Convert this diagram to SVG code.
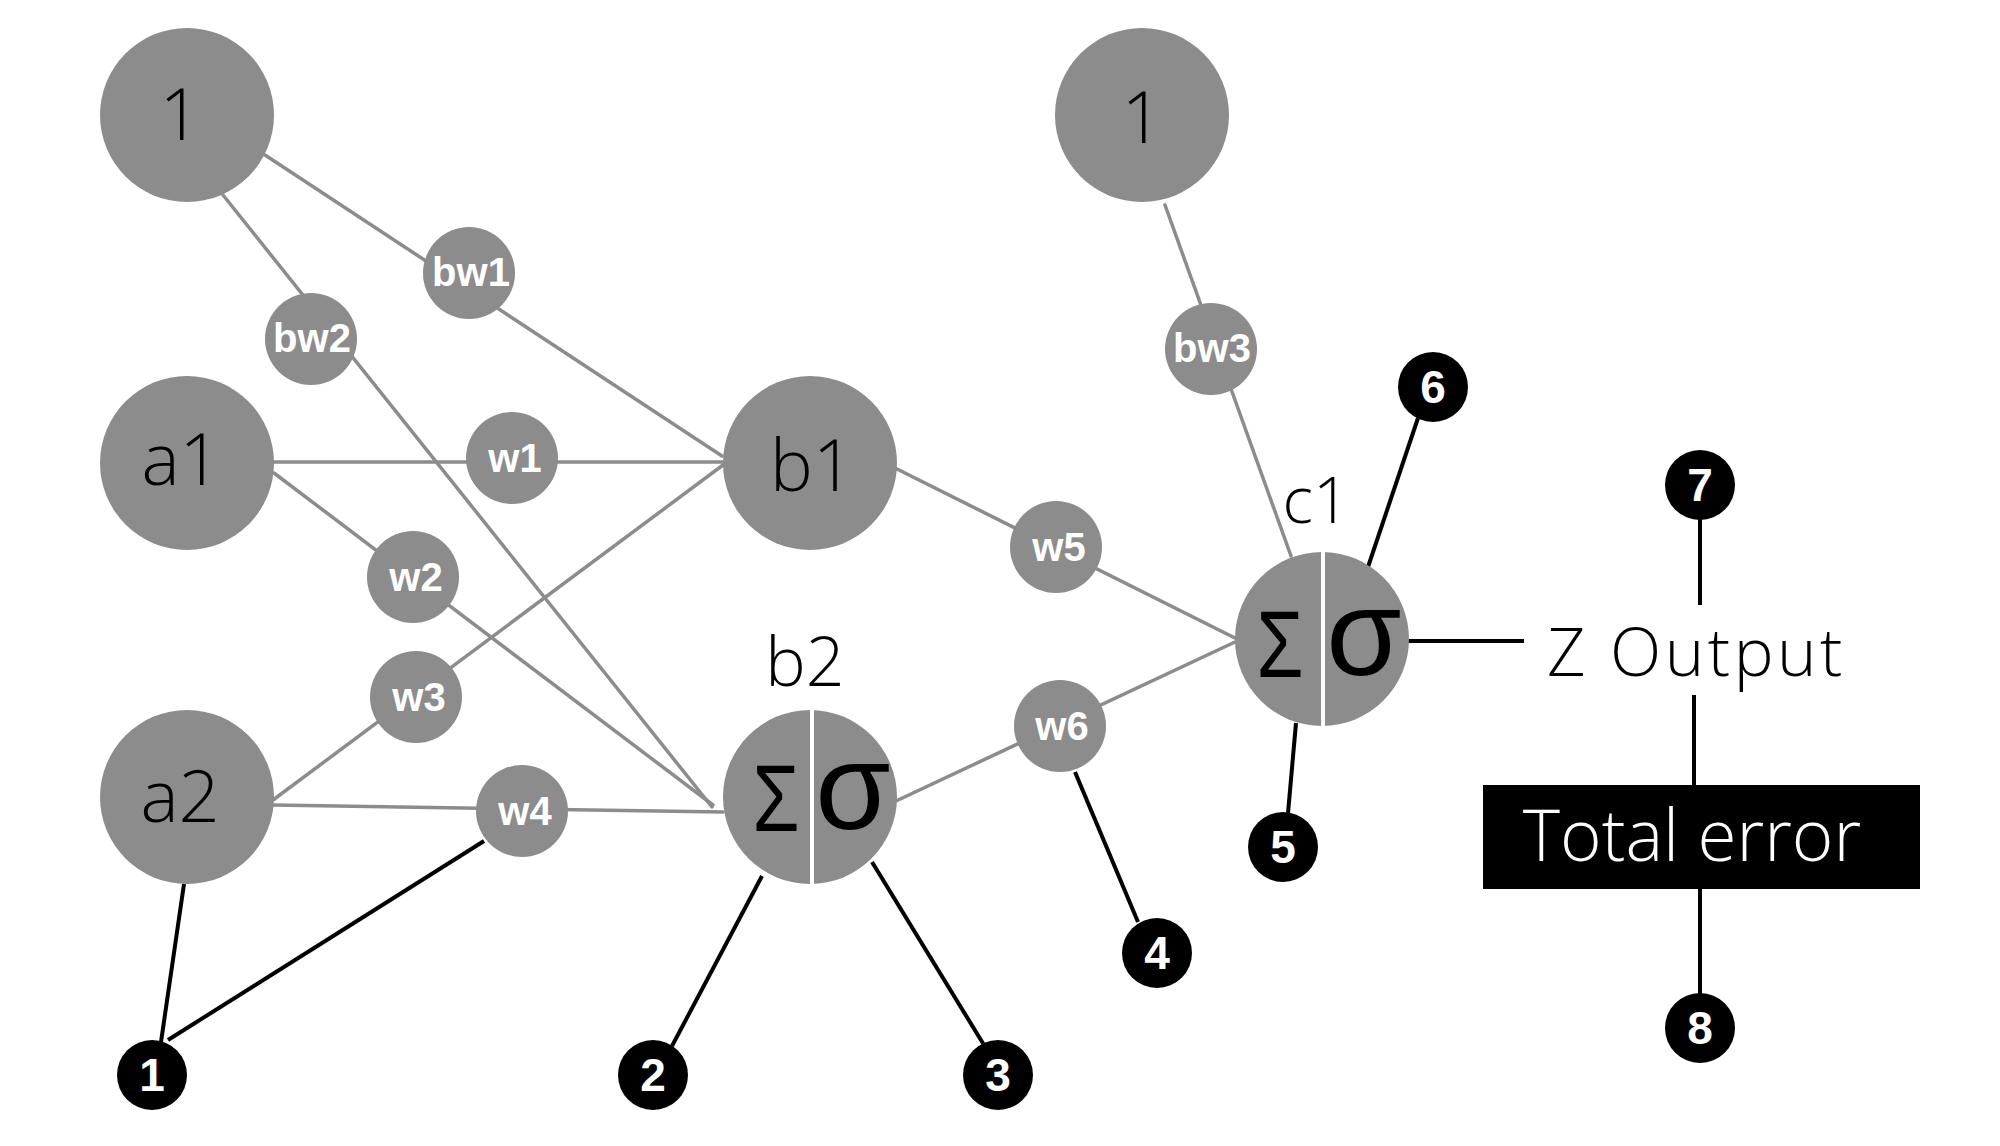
<svg xmlns="http://www.w3.org/2000/svg" width="2000" height="1146" viewBox="0 0 2000 1146">
  <style>
    .node { fill: #8c8c8c; }
    .edge { stroke: #8c8c8c; stroke-width: 3.5; fill: none; stroke-linecap: round; }
    .lead { stroke: #000; stroke-width: 4; fill: none; }
    .big { font-family: "Open Sans", "Liberation Sans", sans-serif; font-weight: 300; font-size: 72px; fill: #000; text-anchor: middle; }
    .wt { font-family: "Liberation Sans", "Open Sans", sans-serif; font-weight: bold; font-size: 40px; fill: #fff; text-anchor: middle; }
    .badge circle { fill: #000; }
    .badge text { font-family: "Liberation Sans", sans-serif; font-weight: bold; font-size: 46px; fill: #fff; text-anchor: middle; }
    .sym { font-family: "Liberation Sans", "DejaVu Sans", sans-serif; fill: #000; text-anchor: middle; }
    .split { stroke: #fff; stroke-width: 4; }
  </style>

  <!-- connectors -->
  <g id="connectors">
    <!-- bias and weight links -->
    <line class="edge" x1="265" y1="155" x2="722" y2="456"/>
    <line class="edge" x1="223" y1="195" x2="712" y2="807"/>
    <line class="edge" x1="274" y1="462" x2="723" y2="462"/>
    <line class="edge" x1="274" y1="473" x2="713" y2="805"/>
    <line class="edge" x1="273" y1="800" x2="723" y2="465"/>
    <line class="edge" x1="273" y1="805" x2="723" y2="812"/>
    <line class="edge" x1="895" y1="468" x2="1235" y2="638"/>
    <line class="edge" x1="896" y1="801" x2="1235" y2="642"/>
    <line class="edge" x1="1165" y1="205" x2="1291" y2="556"/>
    <!-- numbered leads -->
    <line class="lead" x1="184" y1="884" x2="161" y2="1042"/>
    <line class="lead" x1="484" y1="841" x2="168" y2="1040"/>
    <line class="lead" x1="762" y1="876" x2="672" y2="1046"/>
    <line class="lead" x1="872" y1="862" x2="984" y2="1045"/>
    <line class="lead" x1="1075" y1="772" x2="1138" y2="922"/>
    <line class="lead" x1="1296" y1="723" x2="1288" y2="813"/>
    <line class="lead" x1="1368" y1="567" x2="1418" y2="418"/>
    <line class="lead" x1="1408" y1="641" x2="1524" y2="641"/>
    <line class="lead" x1="1700" y1="518" x2="1700" y2="605"/>
    <line class="lead" x1="1694" y1="695" x2="1694" y2="785"/>
    <line class="lead" x1="1700" y1="889" x2="1700" y2="994"/>
  </g>

  <!-- bias units -->
  <g id="bias1">
    <circle class="node" cx="187" cy="115" r="87"/>
    <text class="big" x="180" y="140">1</text>
  </g>
  <g id="bias2">
    <circle class="node" cx="1142" cy="115" r="87"/>
    <text class="big" x="1142" y="143">1</text>
  </g>

  <!-- inputs -->
  <g id="a1">
    <circle class="node" cx="187" cy="463" r="87"/>
    <text class="big" x="181" y="485">a1</text>
  </g>
  <g id="a2">
    <circle class="node" cx="187" cy="797" r="87"/>
    <text class="big" x="180" y="822">a2</text>
  </g>

  <!-- hidden units -->
  <g id="b1">
    <circle class="node" cx="810" cy="463" r="87"/>
    <text class="big" x="812" y="491">b1</text>
  </g>
  <g id="b2">
    <text class="big" x="805" y="686" style="font-size:68px">b2</text>
    <circle class="node" cx="810" cy="797" r="87"/>
    <line class="split" x1="812" y1="710" x2="812" y2="884"/>
    <text class="sym" transform="translate(776 831) scale(0.8 1)" font-size="95">Σ</text>
    <text class="sym" x="853" y="829" font-size="122">σ</text>
  </g>

  <!-- output unit -->
  <g id="c1">
    <text class="big" x="1316" y="523" style="font-size:64px">c1</text>
    <circle class="node" cx="1322" cy="639" r="87"/>
    <line class="split" x1="1323" y1="552" x2="1323" y2="726"/>
    <text class="sym" transform="translate(1280 677) scale(0.8 1)" font-size="95">Σ</text>
    <text class="sym" x="1364" y="675" font-size="122">σ</text>
  </g>

  <!-- weights -->
  <g id="bw1"><circle class="node" cx="469" cy="273" r="46"/><text class="wt" x="471" y="286">bw1</text></g>
  <g id="bw2"><circle class="node" cx="311" cy="339" r="46"/><text class="wt" x="312" y="352">bw2</text></g>
  <g id="bw3"><circle class="node" cx="1211" cy="349" r="46"/><text class="wt" x="1212" y="362">bw3</text></g>
  <g id="w1"><circle class="node" cx="512" cy="458" r="46"/><text class="wt" x="515" y="472">w1</text></g>
  <g id="w2"><circle class="node" cx="413" cy="577" r="46"/><text class="wt" x="416" y="591">w2</text></g>
  <g id="w3"><circle class="node" cx="416" cy="697" r="46"/><text class="wt" x="419" y="711">w3</text></g>
  <g id="w4"><circle class="node" cx="522" cy="811" r="46"/><text class="wt" x="525" y="825">w4</text></g>
  <g id="w5"><circle class="node" cx="1056" cy="547" r="46"/><text class="wt" x="1059" y="561">w5</text></g>
  <g id="w6"><circle class="node" cx="1060" cy="726" r="46"/><text class="wt" x="1062" y="740">w6</text></g>

  <!-- output and error -->
  <g id="z-output">
    <text class="big" x="1547" y="676" style="font-size:67px; letter-spacing:3.5px; text-anchor:start">Z Output</text>
  </g>
  <g id="total-error">
    <rect x="1483" y="785" width="437" height="104" fill="#000"/>
    <text class="big" x="1692" y="861" style="font-size:71px; fill:#fff">Total error</text>
  </g>

  <!-- numbered markers -->
  <g id="m1" class="badge"><circle cx="152" cy="1075" r="35"/><text x="152" y="1091">1</text></g>
  <g id="m2" class="badge"><circle cx="653" cy="1075" r="35"/><text x="653" y="1091">2</text></g>
  <g id="m3" class="badge"><circle cx="998" cy="1075" r="35"/><text x="998" y="1091">3</text></g>
  <g id="m4" class="badge"><circle cx="1157" cy="953" r="35"/><text x="1157" y="969">4</text></g>
  <g id="m5" class="badge"><circle cx="1283" cy="847" r="35"/><text x="1283" y="863">5</text></g>
  <g id="m6" class="badge"><circle cx="1433" cy="387" r="35"/><text x="1433" y="403">6</text></g>
  <g id="m7" class="badge"><circle cx="1700" cy="485" r="35"/><text x="1700" y="501">7</text></g>
  <g id="m8" class="badge"><circle cx="1700" cy="1028" r="35"/><text x="1700" y="1044">8</text></g>
</svg>
